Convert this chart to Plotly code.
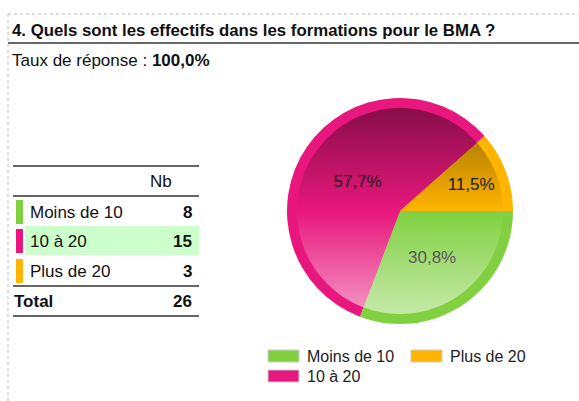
import base64
import plotly.graph_objects as go

# ---- data ----
categories = ["Moins de 10", "10 à 20", "Plus de 20"]
counts = [8, 15, 3]
colors = ["#80d040", "#e8177d", "#ffb400"]
title_text = "4. Quels sont les effectifs dans les formations pour le BMA ?"
rate_label = "Taux de réponse : "
rate_value = "100,0%"
col_header = "Nb"
total_label = "Total"

total = sum(counts)
pct_text = [f"{100 * v / total:.1f}%".replace(".", ",") for v in counts]

W, H = 579, 401
FONT = "Liberation Sans, Arial, sans-serif"


def px(x):
    return x / W


def py(y):
    return 1 - y / H


fig = go.Figure()

# outer ring pie (solid colours)
fig.add_trace(go.Pie(
    labels=categories, values=counts, sort=False, direction="clockwise",
    rotation=90, marker=dict(colors=colors, line=dict(width=0)),
    textinfo="none", hoverinfo="skip", showlegend=False,
    domain=dict(x=[px(287), px(513)], y=[py(324), py(98)]),
))
# inner pie with labels
fig.add_trace(go.Pie(
    labels=categories, values=counts, sort=False, direction="clockwise",
    rotation=90, marker=dict(colors=colors, line=dict(width=0)),
    text=pct_text, textinfo="text", textposition="inside",
    insidetextorientation="horizontal",
    textfont=dict(family=FONT, size=17, color="#222222"),
    hoverinfo="label+value", showlegend=False,
    domain=dict(x=[px(297), px(503)], y=[py(314), py(108)]),
))

# gradient overlay for the inner disc
svg = ("<svg xmlns='http://www.w3.org/2000/svg' width='206' height='206' viewBox='0 0 206 206'>"
       "<defs><linearGradient id='g' x1='0' y1='0' x2='0' y2='1'>"
       "<stop offset='0' stop-color='#000' stop-opacity='0.42'/>"
       "<stop offset='0.5' stop-color='#000' stop-opacity='0'/>"
       "<stop offset='0.5' stop-color='#fff' stop-opacity='0'/>"
       "<stop offset='1' stop-color='#fff' stop-opacity='0.55'/>"
       "</linearGradient></defs>"
       "<circle cx='103' cy='103' r='103' fill='url(#g)'/></svg>")
src = "data:image/svg+xml;base64," + base64.b64encode(svg.encode()).decode()
images = [dict(source=src, xref="paper", yref="paper", x=px(297), y=py(108),
               sizex=px(206), sizey=206 / H, xanchor="left", yanchor="top",
               sizing="stretch", layer="above")]

shapes = []
annotations = []


def line(x0, y0, x1, y1, color, width, dash="solid"):
    shapes.append(dict(type="line", xref="paper", yref="paper",
                       x0=px(x0), y0=py(y0), x1=px(x1), y1=py(y1),
                       line=dict(color=color, width=width, dash=dash)))


def rect(x0, y0, x1, y1, fill, lc=None, lw=0):
    shapes.append(dict(type="rect", xref="paper", yref="paper",
                       x0=px(x0), y0=py(y0), x1=px(x1), y1=py(y1),
                       fillcolor=fill, line=dict(color=lc or fill, width=lw)))


def text(x, y, s, anchor="left", size=17, bold=False, color="#111111"):
    if bold:
        s = f"<b>{s}</b>"
    annotations.append(dict(xref="paper", yref="paper", x=px(x), y=py(y), text=s,
                            showarrow=False, xanchor=anchor, yanchor="middle",
                            font=dict(family=FONT, size=size, color=color)))


# frame dotted lines
line(8, 14, W, 14, "#bbbbbb", 1, "dot")
line(8, 14, 8, H, "#bbbbbb", 1, "dot")

# title
text(10, 30, title_text, size=16.8, bold=True)
line(8, 43, W, 43, "#333333", 1.5)
text(10, 61, rate_label + f"<b>{rate_value}</b>", size=17)

# table
row_y = [212, 241, 271]
rect(25, 226, 199, 255, "#ccffcc")  # highlighted (max) row background
line(13, 166, 199, 166, "#333333", 1.5)
text(174, 182, col_header, anchor="right")
line(13, 196, 199, 196, "#333333", 1.5)
for cat, val, col, y in zip(categories, counts, colors, row_y):
    rect(16, y - 12, 23, y + 12, col)
    text(28, y, cat)
    text(194, y, str(val), anchor="right", bold=True)
line(13, 286, 199, 286, "#333333", 1.5)
text(12, 301, total_label, bold=True)
text(194, 301, str(total), anchor="right", bold=True)
line(13, 316, 199, 316, "#333333", 1.5)

# legend (two columns: column-major order)
leg_pos = [(268, 356), (268, 376), (411, 356)]
for cat, col, (lx, ly) in zip(categories, colors, leg_pos):
    rect(lx, ly - 6, lx + 31, ly + 6, col, "#cccccc", 1)
    text(lx + 37, ly, cat, size=16, color="#222222")

fig.update_layout(
    width=W, height=H, margin=dict(l=0, r=0, t=0, b=0),
    paper_bgcolor="white", plot_bgcolor="white",
    shapes=shapes, annotations=annotations, images=images,
    showlegend=False,
)

fig.write_html("out.html", config={"displayModeBar": False},
               post_script="document.body.style.margin='0';document.body.style.overflow='hidden';")
